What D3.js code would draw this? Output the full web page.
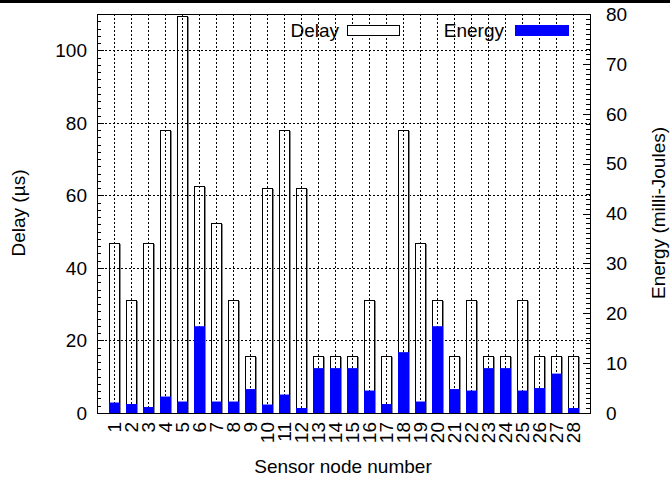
<!DOCTYPE html>
<html><head><meta charset="utf-8">
<script src="https://cdn.jsdelivr.net/npm/d3@7"></script>
<style>body{margin:0;background:#fff}svg{display:block}text{font-family:"Liberation Sans",Arial,sans-serif;fill:#000}</style>
</head><body>
<svg id="c" width="670" height="478"></svg>
<script>
const nodes = d3.range(1, 29);
const delay = [46.9,31.2,46.9,78.1,109.4,62.5,52.5,31.2,15.6,62.0,78.1,62.0,15.6,15.6,15.6,31.2,15.6,78.1,46.9,31.2,15.6,31.2,15.6,15.6,31.2,15.6,15.6,15.6];
const energy = [2.1,1.8,1.2,3.3,2.3,17.4,2.3,2.3,4.8,1.7,3.7,1.0,9.0,9.0,9.0,4.5,1.8,12.2,2.3,17.4,4.8,4.5,9.0,9.0,4.5,5.0,7.9,1.0];
const leftTicks = [0,20,40,60,80,100];
const rightTicks = [0,10,20,30,40,50,60,70,80];

const svg = d3.select("#c");
const L = 97, R = 590, T = 14, B = 413;
const x = d3.scaleLinear().domain([0, 29]).range([L, R]);
const yL = d3.scaleLinear().domain([0, 110]).range([B, T]);
const yR = d3.scaleLinear().domain([0, 80]).range([B, T]);
const bw = (x(1) - x(0)) * 0.53;
const px = v => Math.round(v) + 0.5;

svg.append("rect").attr("x",0).attr("y",0).attr("width",670).attr("height",3).attr("fill","#000");

const grid = svg.append("g").attr("stroke","#000").attr("stroke-width",1).attr("stroke-dasharray","2,2");
nodes.forEach(n => grid.append("line").attr("x1",px(x(n))).attr("x2",px(x(n))).attr("y1",T).attr("y2",B));
leftTicks.filter(t => t > 0).forEach(t => grid.append("line").attr("x1",L).attr("x2",R).attr("y1",px(yL(t))).attr("y2",px(yL(t))));

// delay bars (empty boxes)
const dg = svg.append("g");
nodes.forEach((n, i) => {
  const x0 = Math.round(x(n) - bw/2), x1 = Math.round(x(n) + bw/2), y0 = Math.round(yL(delay[i]));
  dg.append("rect").attr("x", x0 + 0.5).attr("y", y0 + 0.5).attr("width", x1 - x0).attr("height", B - y0)
    .attr("fill","none").attr("stroke","#000").attr("stroke-width",1);
  dg.append("line").attr("x1", x1 + 1.5).attr("x2", x1 + 1.5).attr("y1", y0 + 1).attr("y2", B)
    .attr("stroke","#888").attr("stroke-width",1);
});
// energy bars
nodes.forEach((n, i) => {
  const x0 = Math.round(x(n) - bw/2), x1 = Math.round(x(n) + bw/2);
  svg.append("rect").attr("x", x0).attr("y", yR(energy[i])).attr("width", x1 - x0 + 1).attr("height", B - yR(energy[i]))
    .attr("fill","#0000ff");
});

// frame
svg.append("rect").attr("x",L+0.5).attr("y",T+0.5).attr("width",R-L).attr("height",B-T).attr("fill","none").attr("stroke","#000");

// ticks
const tk = svg.append("g").attr("stroke","#000").attr("stroke-width",1);
d3.range(0, 111, 2).forEach(v => {
  const len = v % 20 === 0 ? 7 : 4;
  tk.append("line").attr("x1",L).attr("x2",L+len).attr("y1",px(yL(v))).attr("y2",px(yL(v)));
});
d3.range(0, 81, 1).forEach(v => {
  const len = v % 10 === 0 ? 7 : 4;
  tk.append("line").attr("x1",R).attr("x2",R-len).attr("y1",px(yR(v))).attr("y2",px(yR(v)));
});

const fs = 19;
leftTicks.forEach(t => svg.append("text").attr("x", L - 10).attr("y", yL(t)).attr("dy","0.36em")
  .attr("text-anchor","end").attr("font-size",fs).text(t));
rightTicks.forEach(t => svg.append("text").attr("x", R + 16).attr("y", yR(t)).attr("dy","0.36em")
  .attr("text-anchor","start").attr("font-size",fs).text(t));
nodes.forEach(n => svg.append("text").attr("transform", `translate(${x(n)},${422}) rotate(-90)`)
  .attr("dy","0.36em").attr("text-anchor","end").attr("font-size",fs).text(n));

svg.append("text").attr("x", 343).attr("y", 473).attr("text-anchor","middle").attr("font-size",fs).text("Sensor node number");
svg.append("text").attr("transform","translate(25,213) rotate(-90)").attr("text-anchor","middle").attr("font-size",fs).text("Delay (µs)");
svg.append("text").attr("transform","translate(665,213) rotate(-90)").attr("text-anchor","middle").attr("font-size",fs).text("Energy (milli-Joules)");

// legend
svg.append("text").attr("x", 339).attr("y", 30).attr("dy","0.36em").attr("text-anchor","end").attr("font-size",fs).text("Delay");
svg.append("rect").attr("x", 347.5).attr("y", 25.5).attr("width", 52).attr("height", 10).attr("fill","#fff").attr("stroke","#000");
svg.append("text").attr("x", 504).attr("y", 30).attr("dy","0.36em").attr("text-anchor","end").attr("font-size",fs).text("Energy");
svg.append("rect").attr("x", 515).attr("y", 25).attr("width", 54).attr("height", 11).attr("fill","#0000ff");
</script>
</body></html>
